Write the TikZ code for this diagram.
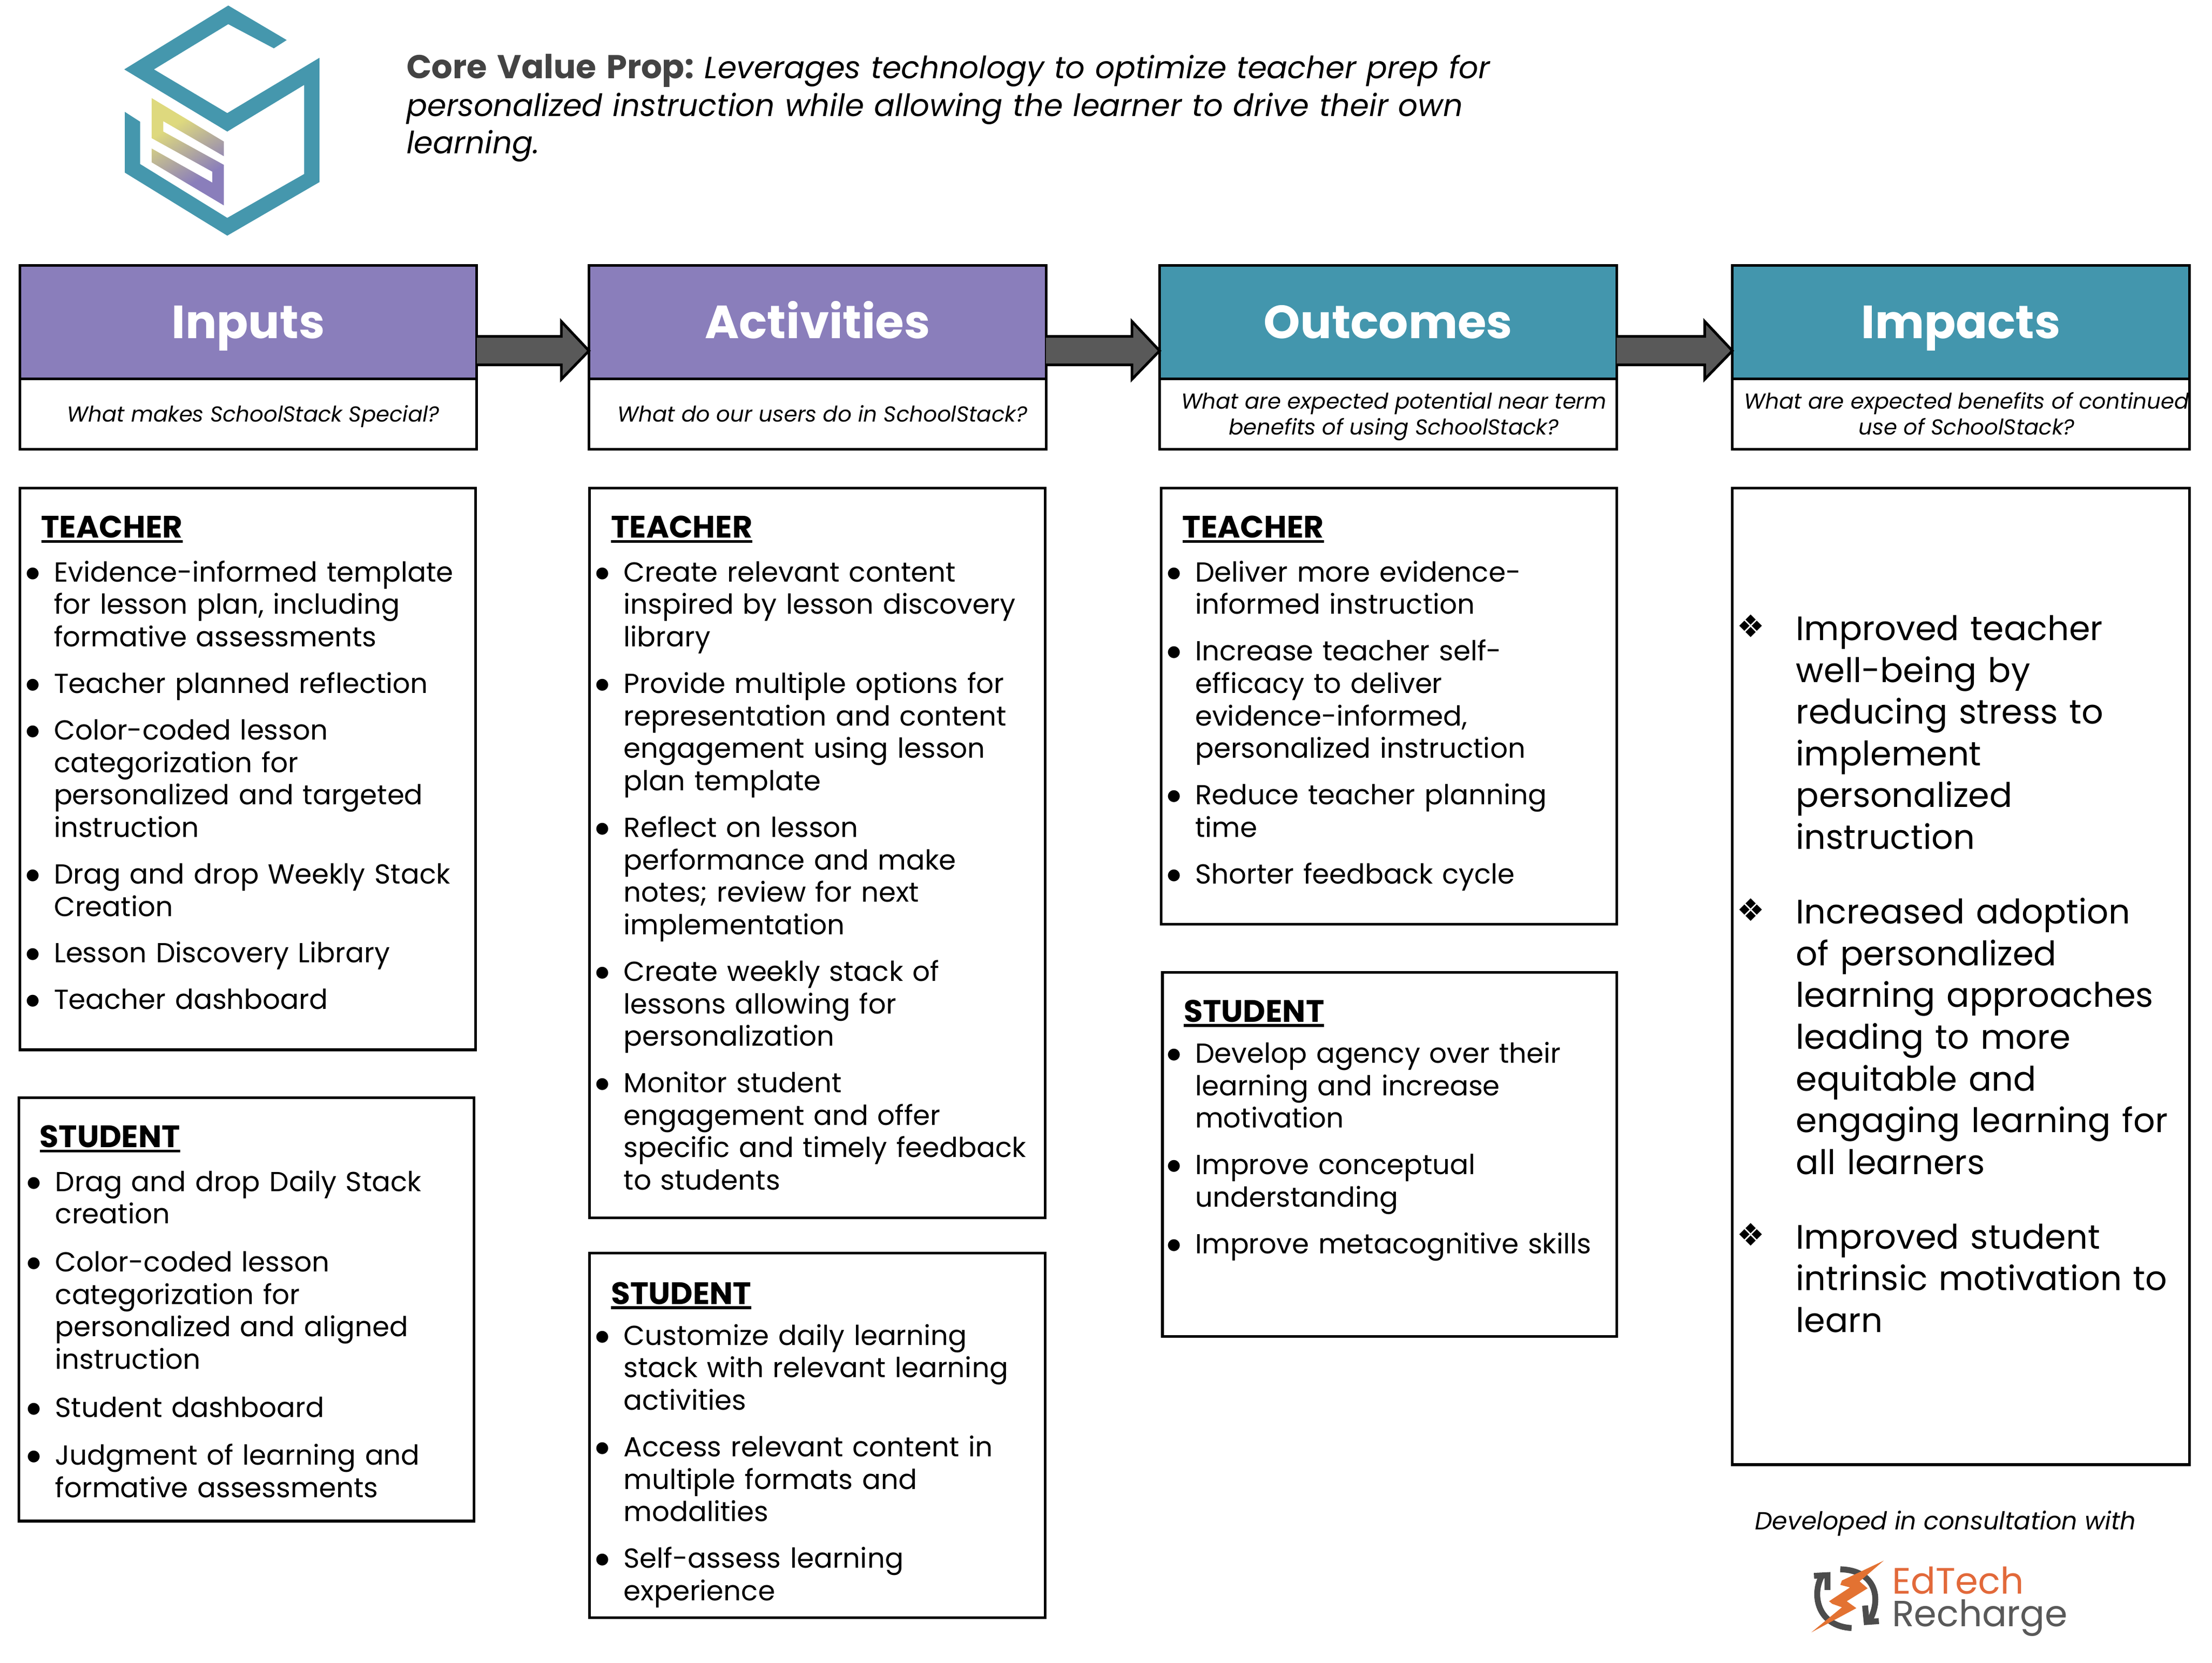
\documentclass[tikz,border=0pt]{standalone}
\usepackage{fontspec}
\setmainfont{Poppins}
\newfontfamily\symfont{DejaVu Sans}
\usetikzlibrary{positioning,calc}

\definecolor{hdpurple}{HTML}{8A7EBB}
\definecolor{hdteal}{HTML}{4396AD}
\definecolor{logoteal}{HTML}{4597AD}
\definecolor{logoyellow}{HTML}{DED97E}
\definecolor{arrowgray}{HTML}{595959}
\definecolor{propgray}{HTML}{434343}
\definecolor{edorange}{HTML}{E2693A}
\definecolor{edbolt}{HTML}{E37232}
\pgfdeclareverticalshading{logoshade}{100bp}{color(0bp)=(hdpurple); color(34bp)=(hdpurple); color(66bp)=(logoyellow); color(100bp)=(logoyellow)}

\newlength{\hangw}
\setlength{\hangw}{9pt}
\newcommand{\itemgap}{10pt}
\newcommand{\headgap}{-2pt}
\newcommand{\grouphead}[1]{\noindent\setbox0\hbox{\bfseries\fontsize{22}{23}\selectfont #1}\rlap{\rule[-3.5pt]{\wd0}{2pt}}\box0\strut\par\vspace{\headgap}}
\newcommand{\bitem}[1]{\par\vspace{\itemgap}{\leftskip=\hangw\noindent\llap{\makebox[30pt]{\raisebox{3pt}{\symfont\fontsize{11}{11}\selectfont ●}}}\strut #1\par}}
\newcommand{\ditem}[1]{\par{\noindent\llap{\makebox[64pt]{\raisebox{2pt}{\symfont\fontsize{22}{22}\selectfont ❖}}}\strut #1\par}\vspace{23.2pt}}
\newcommand{\flowarrow}[2]{\draw[flowarrow] ($(#1.east)+(0,10.2)$) -- ($(#2.west)+(-19.6,10.2)$) -- ($(#2.west)+(-19.6,-0.4)$) -- ($(#2.west)+(0,20.4)$) -- ($(#2.west)+(-19.6,40.6)$) -- ($(#2.west)+(-19.6,30.4)$) -- ($(#1.east)+(0,30.4)$);}

\tikzset{
  hdbox/.style={draw=black,line width=1.9pt,minimum width=324pt,minimum height=80.4pt,inner sep=0pt,outer sep=0pt,anchor=north west,text=white,text height=28pt,text depth=5pt,font=\bfseries\fontsize{33}{33}\selectfont},
  subbox/.style={draw=black,line width=1.9pt,minimum width=324pt,minimum height=50pt,inner sep=0pt,outer sep=0pt},
  subtxt/.style={inner sep=0pt,align=center,yshift=-1.8pt,font=\itshape\fontsize{15.35}{18.6}\selectfont},
  listbox/.style={draw=black,line width=1.9pt,inner sep=0pt,outer sep=0pt},
  listtxt/.style={anchor=north west,inner sep=0pt,text width=330pt,align=left,font=\fontsize{19.5}{23}\selectfont},
  flowarrow/.style={draw=black,line width=1.9pt,fill=arrowgray,miter limit=8},
  edname/.style={anchor=base west,inner sep=0pt,text height=18pt,text depth=0pt,font=\fontsize{26}{26}\selectfont},
}

\begin{document}
\begin{tikzpicture}[x=1pt,y=-1pt]
\useasboundingbox (0,0) rectangle (1568,1178.2);

% logo
\begin{scope}[shift={(55.06,0)},x=0.14046pt,y=-0.12235pt]
\fill[logoteal] (760,32) -- (1055,232) -- (990,280) -- (760,140) -- (385,402) -- (755,655) -- (1220,335) -- (1220,1055) -- (755,1365) -- (238,1000) -- (238,648) -- (315,705) -- (315,950) -- (755,1262) -- (1143,1008) -- (1143,492) -- (755,762) -- (235,402) -- cycle;
\path[shading=logoshade,shading angle=30] (373,568) -- (738,820) -- (738,905) -- (432,702) -- (432,762) -- (738,955) -- (738,1190) -- (373,940) -- (373,860) -- (680,1058) -- (680,995) -- (373,800) -- cycle;
\end{scope}

\node[anchor=north west,inner sep=0pt,text width=1000pt,align=left,font=\itshape\fontsize{21.75}{26.5}\selectfont] (prop) at (288,37) {\strut{\upshape\bfseries\fontsize{23.4}{26.5}\selectfont\color{propgray}Core Value Prop:}\hspace{-3.5pt} Leverages technology to optimize teacher prep for\\ personalized instruction while allowing the learner to drive their own\\ learning.};

% column heads
\node[hdbox,fill=hdpurple] (inputs) at (14,188) {Inputs};
\node[hdbox,fill=hdpurple] (activities) at (417.5,188) {Activities};
\node[hdbox,fill=hdteal] (outcomes) at (822,188) {Outcomes};
\node[hdbox,fill=hdteal] (impacts) at (1228,188) {Impacts};

\node[subbox,below=0pt of inputs] (inputssub) {};
\node[subbox,below=0pt of activities] (activitiessub) {};
\node[subbox,below=0pt of outcomes] (outcomessub) {};
\node[subbox,below=0pt of impacts] (impactssub) {};
\node[subtxt,xshift=3.5pt] (inputsq) at (inputssub) {\strut What makes SchoolStack Special?};
\node[subtxt,xshift=3.5pt] (activitiesq) at (activitiessub) {\strut What do our users do in SchoolStack?};
\node[subtxt,xshift=4pt] (outcomesq) at (outcomessub) {\strut What are expected potential near term\\ \strut benefits of using SchoolStack?};
\node[subtxt,xshift=4pt] (impactsq) at (impactssub) {\strut What are expected benefits of continued\\ \strut use of SchoolStack?};

\flowarrow{inputs}{activities}
\flowarrow{activities}{outcomes}
\flowarrow{outcomes}{impacts}

% list boxes
\draw[listbox] (14,346) rectangle (337,744);
\draw[listbox] (13.5,778) rectangle (336,1078);
\draw[listbox] (418,346) rectangle (741,863);
\draw[listbox] (418,888) rectangle (741,1146.5);
\draw[listbox] (823,346) rectangle (1146,655);
\draw[listbox] (824,689) rectangle (1146,947);
\draw[listbox] (1228,346) rectangle (1552,1038);

\node[listtxt] (inputsteacher) at (29,365) {\grouphead{TEACHER}
  \bitem{Evidence-informed template\\ for lesson plan, including\\ formative assessments}
  \bitem{Teacher planned reflection}
  \bitem{Color-coded lesson\\ categorization for\\ personalized and targeted\\ instruction}
  \bitem{Drag and drop Weekly Stack\\ Creation}
  \bitem{Lesson Discovery Library}
  \bitem{Teacher dashboard}};
\node[listtxt] (inputsstudent) at (28,797) {\setlength{\hangw}{11pt}\renewcommand{\itemgap}{11pt}\renewcommand{\headgap}{-3pt}\grouphead{STUDENT}
  \bitem{Drag and drop Daily Stack\\ creation}
  \bitem{Color-coded lesson\\ categorization for\\ personalized and aligned\\ instruction}
  \bitem{Student dashboard}
  \bitem{Judgment of learning and\\ formative assessments}};
\node[listtxt] (activitiesteacher) at (433,365) {\grouphead{TEACHER}
  \bitem{Create relevant content\\ inspired by lesson discovery\\ library}
  \bitem{Provide multiple options for\\ representation and content\\ engagement using lesson\\ plan template}
  \bitem{Reflect on lesson\\ performance and make\\ notes; review for next\\ implementation}
  \bitem{Create weekly stack of\\ lessons allowing for\\ personalization}
  \bitem{Monitor student\\ engagement and offer\\ specific and timely feedback\\ to students}};
\node[listtxt] (activitiesstudent) at (433,908) {\renewcommand{\headgap}{-4pt}\grouphead{STUDENT}
  \bitem{Customize daily learning\\ stack with relevant learning\\ activities}
  \bitem{Access relevant content in\\ multiple formats and\\ modalities}
  \bitem{Self-assess learning\\ experience}};
\node[listtxt] (outcomesteacher) at (838,365) {\grouphead{TEACHER}
  \bitem{Deliver more evidence-\\ informed instruction}
  \bitem{Increase teacher self-\\ efficacy to deliver\\ evidence-informed,\\ personalized instruction}
  \bitem{Reduce teacher planning\\ time}
  \bitem{Shorter feedback cycle}};
\node[listtxt] (outcomesstudent) at (839,708) {\setlength{\hangw}{8pt}\renewcommand{\headgap}{-4pt}\grouphead{STUDENT}
  \bitem{Develop agency over their\\ learning and increase\\ motivation}
  \bitem{Improve conceptual\\ understanding}
  \bitem{Improve metacognitive skills}};
\node[listtxt,font=\fontsize{24}{29.6}\selectfont] (impactslist) at (1273,424) {
  \ditem{Improved teacher\\ well-being by\\ reducing stress to\\ implement\\ personalized\\ instruction}
  \ditem{Increased adoption\\ of personalized\\ learning approaches\\ leading to more\\ equitable and\\ engaging learning for\\ all learners}
  \ditem{Improved student\\ intrinsic motivation to\\ learn}};

\node[anchor=center,inner sep=0pt,font=\itshape\fontsize{17.5}{20}\selectfont] (consult) at (1379,1079.5) {Developed in consultation with};

% edtech logo
\begin{scope}[shift={(1211.2,1057.1)},x=0.2276pt,y=-0.12235pt]
\draw[arrowgray!85!black,line width=4.2pt] (352,490) .. controls (320,600) and (340,780) .. (445,790);
\draw[arrowgray!85!black,line width=4.2pt] (410,450) .. controls (520,455) and (540,620) .. (500,750);
\draw[arrowgray!85!black,line width=4.2pt] (328,488) -- (370,484) -- (370,570);
\draw[arrowgray!85!black,line width=4.2pt] (487,660) -- (492,755) -- (530,750);
\fill[edbolt] (545,400) -- (415,515) -- (410,540) -- (440,555) -- (375,635) -- (385,650) -- (415,670) -- (320,815) -- (460,675) -- (430,635) -- (495,560) -- (470,520) -- cycle;
\end{scope}
\node[edname,text=edorange] (edtech) at (1341,1129.5) {EdTech};
\node[edname,text=arrowgray,font=\fontsize{25.8}{26}\selectfont,text height=17pt] (recharge) at (1341,1152.8) {Recharge};
\end{tikzpicture}
\end{document}
